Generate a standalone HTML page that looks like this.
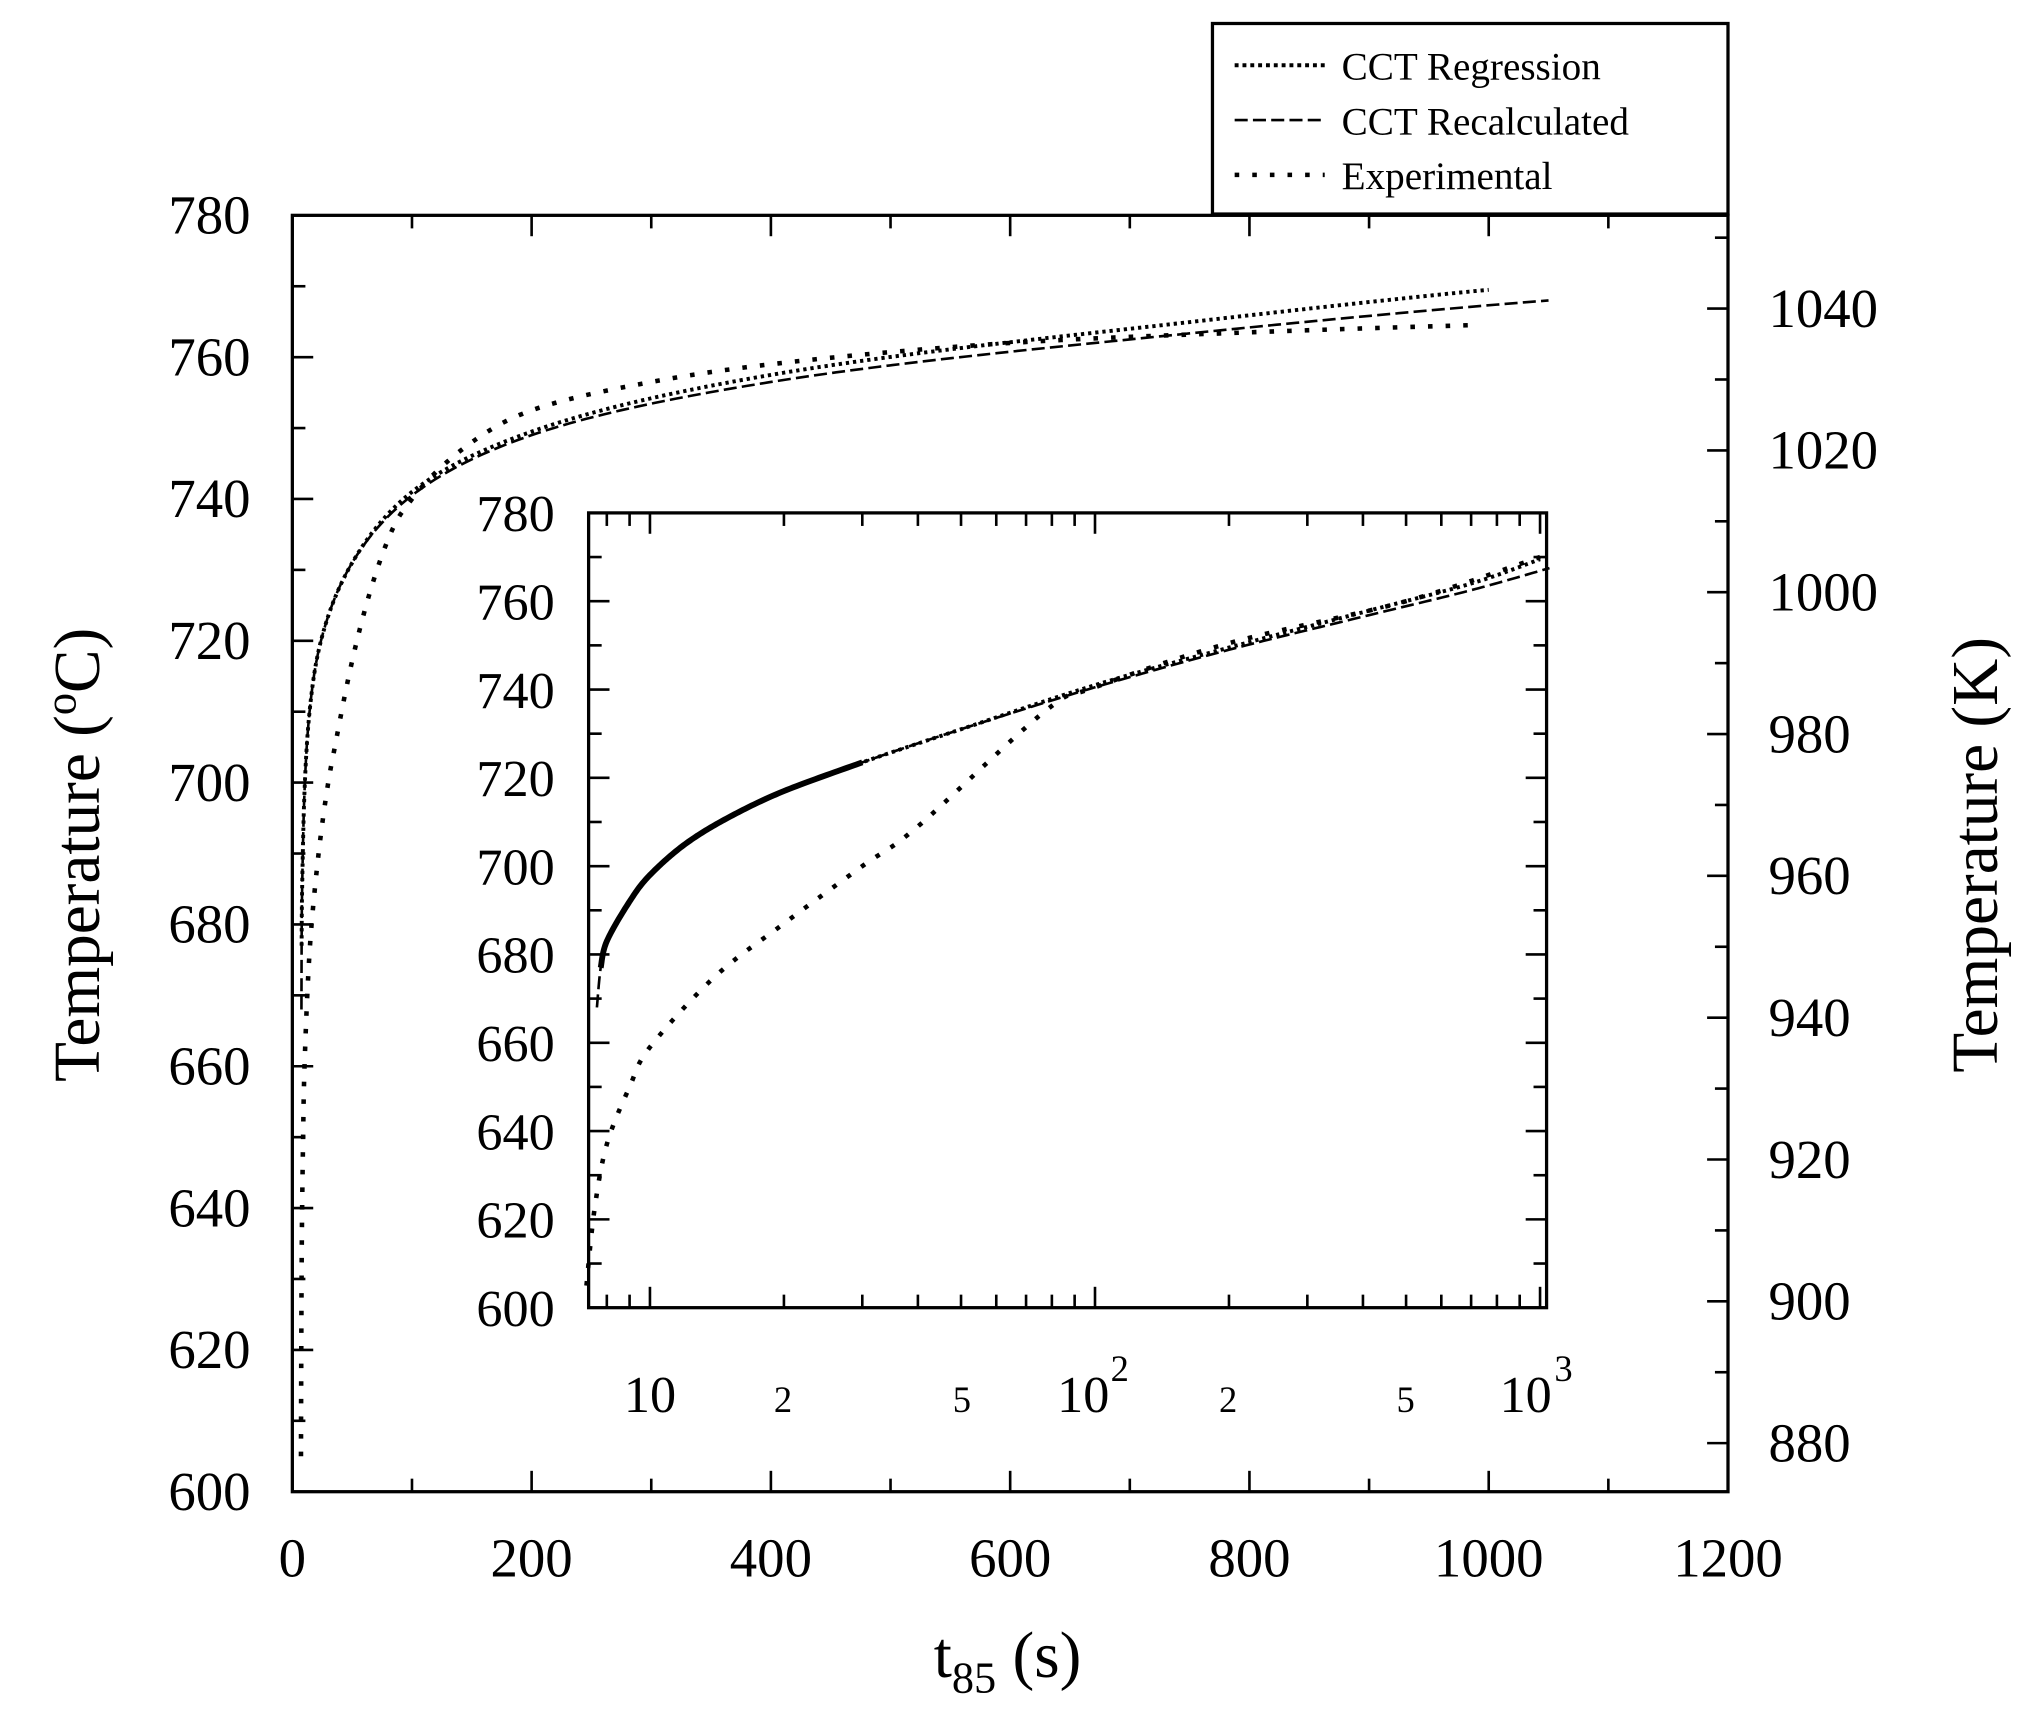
<!DOCTYPE html>
<html><head><meta charset="utf-8"><style>
html,body{margin:0;padding:0;background:#fff;}
svg{display:block;}
text{font-family:"Liberation Serif",serif;fill:#000;}
</style></head><body>
<svg id="s" width="2036" height="1709" viewBox="0 0 1560 1309.5" preserveAspectRatio="none" xmlns="http://www.w3.org/2000/svg">
<rect width="1560" height="1309.5" fill="#fff"/>
<g id="g"></g>
<rect x="929" y="18" width="395" height="146" fill="#fff" stroke="#000" stroke-width="2.5"/>
<line x1="946" y1="50" x2="1015" y2="50" stroke="#000" stroke-width="3" stroke-dasharray="3 3"/>
<line x1="946" y1="92" x2="1015" y2="92" stroke="#000" stroke-width="2" stroke-dasharray="10 4"/>
<line x1="946" y1="134" x2="1015" y2="134" stroke="#000" stroke-width="3.5" stroke-dasharray="3.5 10"/>
<text x="1028" y="61" font-size="30">CCT Regression</text>
<text x="1028" y="103" font-size="30">CCT Recalculated</text>
<text x="1028" y="145" font-size="30">Experimental</text>
<text transform="translate(76,655) rotate(-90)" font-size="50" text-anchor="middle">Temperature (<tspan font-size="34" dy="-18">o</tspan><tspan dy="18">C)</tspan></text>
<text transform="translate(1530,655) rotate(-90)" font-size="50" text-anchor="middle">Temperature (K)</text>
<text x="772" y="1285" font-size="50" text-anchor="middle">t<tspan font-size="34" dy="12">85</tspan><tspan dy="-12"> (s)</tspan></text>
</svg>
<script>
var NS="http://www.w3.org/2000/svg",G=document.getElementById('g');
function el(t,a,txt){var e=document.createElementNS(NS,t);for(var k in a)e.setAttribute(k,a[k]);if(txt!=null)e.textContent=txt;G.appendChild(e);return e;}
function ln(x1,y1,x2,y2,w){el('line',{x1:x1,y1:y1,x2:x2,y2:y2,stroke:'#000','stroke-width':w||2});}
var MX=function(t){return 224+t*1100/1200;},MY=function(T){return 1143-(T-600)*978/180;};
el('rect',{x:224,y:165,width:1100,height:978,fill:'none',stroke:'#000','stroke-width':2.5});
for(var t=0;t<=1200;t+=100){var x=MX(t),L=t%200==0?16:10;ln(x,1143,x,1143-L);ln(x,165,x,165+L);
 if(t%200==0)el('text',{x:x,y:1208,'font-size':42,'text-anchor':'middle'},t);}
for(var T=600;T<=780;T+=10){var y=MY(T),L=T%20==0?16:10;ln(224,y,224+L,y);
 if(T%20==0)el('text',{x:192,y:y+14,'font-size':42,'text-anchor':'end'},T);}
for(var K=880;K<=1050;K+=10){var y=MY(K-273.15),L=K%20==0?16:10;ln(1324,y,1324-L,y);
 if(K%20==0)el('text',{x:1355,y:y+14,'font-size':42},K);}
var rec=[[7.6,668],[7.75,677],[8,683],[9,692],[10,698],[12,705],[15,711],[20,717],[30,723.5],[50,731],[100,740.5],[200,749],[400,756.5],[700,762.5],[1050,768]];
var reg=[[7.75,677],[8,683],[9,692],[10,698],[12,705],[15,711],[20,717],[30,723.5],[50,731],[100,741],[200,749.5],[400,757.5],[700,764],[1000,769.5]];
var exp=[[7.2,605],[7.5,622],[8,637],[9,650],[10,659],[14,675],[20,687],[30,700],[40,709],[77,733],[100,740],[150,748],[200,752.5],[300,756.5],[400,759],[600,762],[800,763.5],[983,764.5]];
function dense(p){var q=p.map(function(a){return [Math.log10(a[0]),a[1]];}),o=[],n=q.length;
 for(var i=0;i<n-1;i++){var p0=q[Math.max(i-1,0)],p1=q[i],p2=q[i+1],p3=q[Math.min(i+2,n-1)];
  for(var k=0;k<24;k++){var s=k/24,s2=s*s,s3=s2*s;
   var f=function(a,b,c,d){return 0.5*((2*b)+(-a+c)*s+(2*a-5*b+4*c-d)*s2+(-a+3*b-3*c+d)*s3);};
   o.push([Math.pow(10,f(p0[0],p1[0],p2[0],p3[0])),f(p0[1],p1[1],p2[1],p3[1])]);}}
 o.push(p[n-1]);return o;}
function path(p,fx,fy,st){var d=dense(p).map(function(q,i){return (i?'L':'M')+fx(q[0]).toFixed(2)+','+fy(q[1]).toFixed(2);}).join('');el('path',Object.assign({d:d,fill:'none',stroke:'#000'},st));}
var S1={'stroke-width':3,'stroke-dasharray':'2.5 3'},S2={'stroke-width':2,'stroke-dasharray':'10 4'},S3={'stroke-width':3.5,'stroke-dasharray':'3.5 10'};
path(reg,MX,MY,S1);path(rec,MX,MY,S2);path(exp,MX,MY,S3);
el('rect',{x:451,y:393,width:734,height:609,fill:'#fff',stroke:'#000','stroke-width':2.5});
var IX=function(t){return 498+(Math.log10(t)-1)*341;},IY=function(T){return 1002-(T-600)*609/180;};
for(var T=600;T<=780;T+=10){var y=IY(T),L=T%20==0?16:10;ln(451,y,451+L,y);ln(1185,y,1185-L,y);
 if(T%20==0)el('text',{x:425,y:y+14,'font-size':40,'text-anchor':'end'},T);}
for(var d=1;d<=100;d*=10)for(var m=1;m<10;m++){var v=d*m;if(v<7.3)continue;var x=IX(v);if(x>1186)continue;var L=m==1?16:10;ln(x,1002,x,1002-L);ln(x,393,x,393+L);}
ln(IX(1000),1002,IX(1000),986);ln(IX(1000),393,IX(1000),409);
el('text',{x:498,y:1082,'font-size':40,'text-anchor':'middle'},'10');
el('text',{x:600,y:1082,'font-size':28,'text-anchor':'middle'},'2');
el('text',{x:737,y:1082,'font-size':28,'text-anchor':'middle'},'5');
el('text',{x:830,y:1082,'font-size':40,'text-anchor':'middle'},'10');
el('text',{x:858,y:1058,'font-size':28,'text-anchor':'middle'},'2');
el('text',{x:941,y:1082,'font-size':28,'text-anchor':'middle'},'2');
el('text',{x:1077,y:1082,'font-size':28,'text-anchor':'middle'},'5');
el('text',{x:1169,y:1082,'font-size':40,'text-anchor':'middle'},'10');
el('text',{x:1198,y:1058,'font-size':28,'text-anchor':'middle'},'3');
var rec2=rec.slice();rec2[rec2.length-1]=[1050,767.5];
var exp2=[[7.2,605],[7.5,622],[8,637],[9,650],[10,659],[14,675],[20,687],[30,700],[40,709],[77,735],[100,740.5],[200,750.5],[500,760],[1000,770]];
path(reg,IX,IY,S1);path(rec2,IX,IY,S2);path(exp2,IX,IY,S3);
path(reg.slice(0,8),IX,IY,{'stroke-width':4.5});
</script>
</body></html>
